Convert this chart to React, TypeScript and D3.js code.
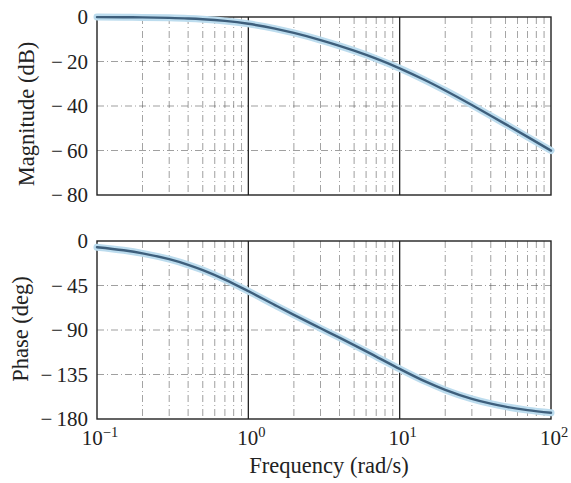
import React from "react";
import * as d3 from "d3";

const freq = [0.1, 0.15, 0.2, 0.3, 0.4, 0.5, 0.7, 1, 1.5, 2, 3, 4, 5, 7, 10, 15, 20, 30, 40, 50, 70, 100];
const magnitudeDb = [-0.04, -0.1, -0.17, -0.38, -0.65, -0.98, -1.75, -3.05, -5.21, -7.16, -10.37, -12.95, -15.12, -18.72, -23.05, -28.66, -33.02, -39.55, -44.35, -48.13, -53.89, -60.04];
const phaseDeg = [-6.28, -9.39, -12.46, -18.42, -24.09, -29.43, -38.99, -50.71, -64.84, -74.74, -88.27, -97.76, -105.26, -116.86, -129.29, -142.5, -150.57, -159.66, -164.53, -167.54, -171.05, -173.72];

const magTicks = [0, -20, -40, -60, -80];
const phaseTicks = [0, -45, -90, -135, -180];
const decadeTicks = [0.1, 1, 10, 100];
const decadeExp = ["−1", "0", "1", "2"];

const FONT = "'Liberation Serif', 'DejaVu Serif', serif";

const fmt = (v: number) => (v < 0 ? "−\u2009" + Math.abs(v) : String(v));

function Panel({ top, bottom, domain, ticks, values, label, x }: any) {
  const y = d3.scaleLinear().domain(domain).range([top, bottom]);
  const minor: number[] = [];
  for (let e = -1; e < 2; e++) {
    for (let k = 2; k <= 9; k++) minor.push(k * Math.pow(10, e));
  }
  const line = d3
    .line<number>()
    .x((_, i) => x(freq[i]))
    .y((d) => y(d))
    .curve(d3.curveMonotoneX);
  const path = line(values) || "";
  const [x0, x1] = x.range();
  return (
    <g>
      {minor.map((m) => (
        <line key={"m" + m} x1={x(m)} x2={x(m)} y1={top} y2={bottom} stroke="#555" strokeWidth={0.8} strokeDasharray="7,3,1,3" opacity={0.7} />
      ))}
      {ticks.slice(1, -1).map((t: number) => (
        <line key={"h" + t} x1={x0} x2={x1} y1={y(t)} y2={y(t)} stroke="#555" strokeWidth={0.8} strokeDasharray="7,3,1,3" opacity={0.7} />
      ))}
      {decadeTicks.slice(1, -1).map((t) => (
        <line key={"d" + t} x1={x(t)} x2={x(t)} y1={top} y2={bottom} stroke="#222" strokeWidth={1.3} />
      ))}
      <rect x={x0} y={top} width={x1 - x0} height={bottom - top} fill="none" stroke="#222" strokeWidth={1.4} />
      <path d={path} fill="none" stroke="#bcdcee" strokeWidth={7} strokeLinecap="round" />
      <path d={path} fill="none" stroke="#3e5f7c" strokeWidth={2.4} strokeLinecap="round" />
      {ticks.map((t: number) => (
        <text key={"t" + t} x={88} y={y(t)} dy="0.35em" textAnchor="end" fontFamily={FONT} fontSize={21} fill="#222">
          {fmt(t)}
        </text>
      ))}
      <text transform={`translate(${label.x},${label.cy}) rotate(-90)`} textAnchor="middle" dy="0.35em" fontFamily={FONT} fontSize={22.5} fill="#222">
        {label.text}
      </text>
    </g>
  );
}

export default function App() {
  const x = d3.scaleLog().domain([0.1, 100]).range([97, 551]);
  return (
    <svg width={571} height={483} style={{ position: "absolute", left: 0, top: 0, background: "#fff" }}>
      <rect width={571} height={483} fill="#fff" />
      <Panel top={17} bottom={195} domain={[0, -80]} ticks={magTicks} values={magnitudeDb} label={{ x: 26, cy: 114, text: "Magnitude (dB)" }} x={x} />
      <Panel top={241} bottom={419} domain={[0, -180]} ticks={phaseTicks} values={phaseDeg} label={{ x: 20, cy: 329, text: "Phase (deg)" }} x={x} />
      {decadeTicks.map((t, i) => (
        <text key={"x" + t} x={x(t) + 3} y={445} textAnchor="middle" fontFamily={FONT} fontSize={21} fill="#222">
          10
          <tspan dy={-8} fontSize={14.5}>{decadeExp[i]}</tspan>
        </text>
      ))}
      <text x={329} y={473} textAnchor="middle" fontFamily={FONT} fontSize={22.5} fill="#222">
        Frequency (rad/s)
      </text>
    </svg>
  );
}
